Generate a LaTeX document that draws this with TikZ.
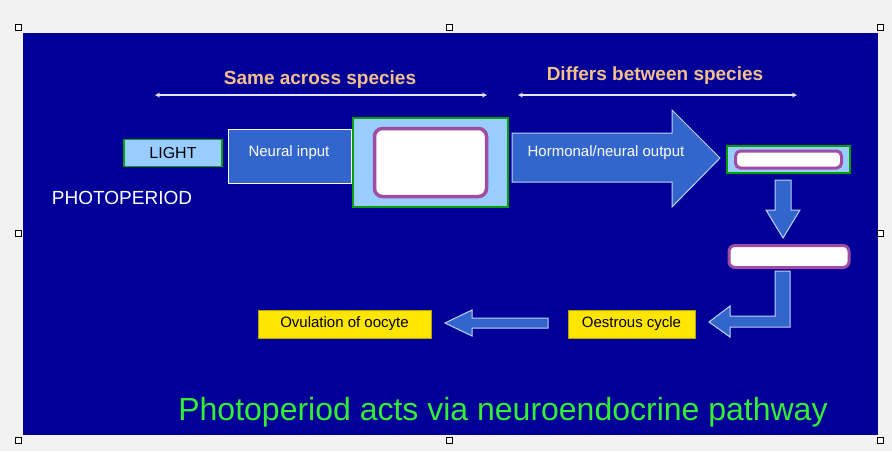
\documentclass[tikz,border=0pt]{standalone}
\usepackage{fontspec}
\setmainfont{Liberation Sans}
\usetikzlibrary{positioning}
\definecolor{slide}{HTML}{000099}
\definecolor{pale}{HTML}{99CCFF}
\definecolor{mid}{HTML}{3366CC}
\definecolor{frame}{HTML}{00A000}
\definecolor{ring}{HTML}{A04CA0}
\definecolor{peach}{HTML}{F4C08A}
\definecolor{gold}{HTML}{FFE600}
\definecolor{lime}{HTML}{33EE33}
\begin{document}
\begin{tikzpicture}[x=1pt, y=-1pt,
  pale box/.style={draw=frame, line width=1.5pt, fill=pale, inner sep=0pt},
  blank/.style={draw=ring, line width=3.5pt, fill=white, rounded corners=8pt, inner sep=0pt},
  yellow box/.style={fill=gold, draw=gold!70!black, inner sep=0pt, text=black, font=\fontsize{15}{16}\selectfont},
  block/.style={fill=mid, draw=white!70!mid, line width=1pt},
  span/.style={<->, >=stealth, draw=white!90!slide, line width=1.2pt},
  heading/.style={text=peach, font=\bfseries\fontsize{19}{20}\selectfont},
  handle/.style={draw=black, fill=white, line width=0.6pt, minimum size=6pt, inner sep=0pt}]
\useasboundingbox (0,0) rectangle (892,451);
\fill[black!5] (0,0) rectangle (892,451);
\fill[slide] (23,33) rectangle (878,435);
% Titel oben
\node[heading] (same) at (320,80) {Same across species};
\node[heading] (differs) at (655,76) {Differs between species};
\coordinate (s1) at (155,95); \coordinate (s2) at (487,95);
\coordinate (d1) at (518,95); \coordinate (d2) at (797,95);
\draw[span] (s1) -- (s2);
\draw[span] (d1) -- (d2);
% Kette oben
\node[pale box, minimum width=98pt, minimum height=27pt, font=\fontsize{16}{17}\selectfont] (light) at (173,153) {LIGHT};
\node[draw=white, line width=1pt, fill=mid, minimum width=123pt, minimum height=54pt, anchor=north west] (neural) at (228,129) {};
\node[text=white, font=\fontsize{15}{16}\selectfont] at (289,153) {Neural input};
\node[pale box, minimum width=155pt, minimum height=89pt] (brain) at (430.5,162.5) {};
\node[blank, minimum width=112pt, minimum height=68pt] (brainin) at (brain.center) {};
\draw[block] (512,133) -- (672,133) -- (672,110) -- (720,158) -- (672,207) -- (672,182) -- (512,182) -- cycle;
\node[text=white, font=\fontsize{15}{16}\selectfont] (output) at (606,153) {Hormonal/neural output};
\node[pale box, minimum width=123pt, minimum height=27pt] (target) at (788.5,159.5) {};
\node[blank, line width=3pt, rounded corners=5pt, minimum width=106pt, minimum height=17pt] (targetin) at (target.center) {};
\node[text=white, font=\fontsize{19}{20}\selectfont] (photo) at (122,198) {PHOTOPERIOD};
% Pfeile rechts
\draw[block] (775,180) -- (791,180) -- (791,210) -- (800,210) -- (783,238) -- (766,210) -- (775,210) -- cycle;
\node[blank, line width=3pt, rounded corners=6pt, minimum width=120pt, minimum height=22pt] (gland) at (789,256.5) {};
\draw[block] (775,271) -- (790,271) -- (790,327) -- (730,327) -- (730,337) -- (709,322) -- (730,306) -- (730,316) -- (775,316) -- cycle;
% Kette unten
\node[yellow box, minimum width=127pt, minimum height=28pt] (cycle) at (631.5,324) {Oestrous cycle};
\draw[block] (548,318) -- (548,328) -- (472,328) -- (472,336) -- (445,323) -- (472,310) -- (472,318) -- cycle;
\node[yellow box, minimum width=173pt, minimum height=28pt] (ovul) at (344.5,324) {Ovulation of oocyte};
\node[text=lime, font=\fontsize{32}{34}\selectfont] (claim) at (503,412) {Photoperiod acts via neuroendocrine pathway};
% Griffe
\foreach \hx/\hy in {18/27, 449/27, 880/27, 18/233, 880/233, 18/440, 449/440, 880/440}
  \node[handle] at (\hx,\hy) {};
\end{tikzpicture}
\end{document}
